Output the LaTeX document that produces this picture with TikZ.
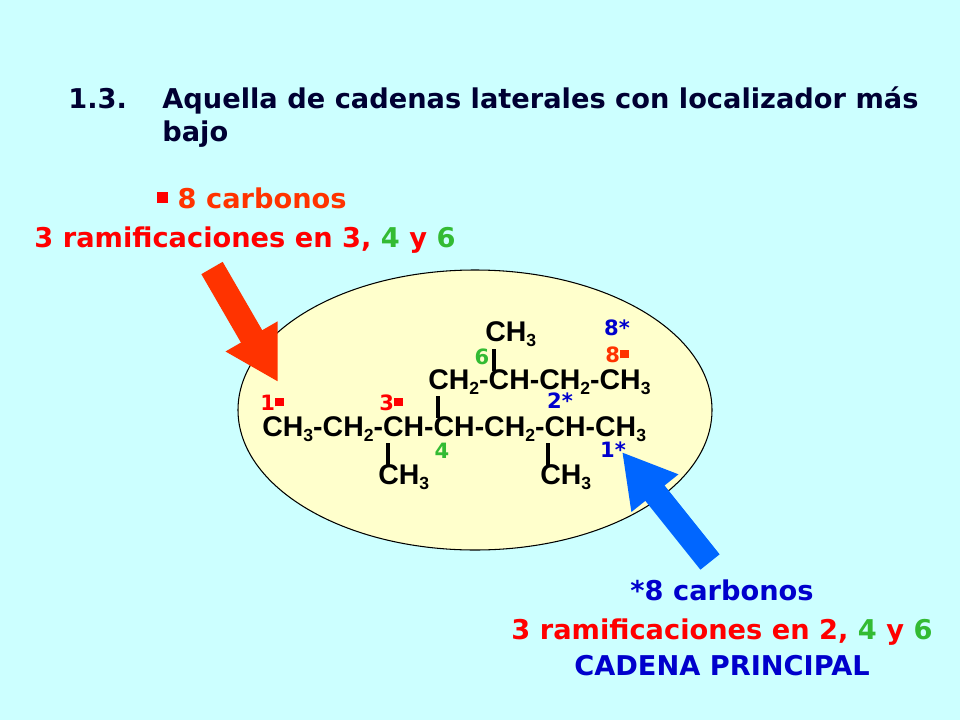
\documentclass[tikz,border=0pt]{standalone}
\usepackage{fontspec}
\setmainfont{DejaVu Sans}
\newfontfamily\molfont{Liberation Sans}
\usetikzlibrary{arrows.meta}
\definecolor{bgcyan}{HTML}{CCFFFF}
\definecolor{ovalfill}{HTML}{FFFFCC}
\definecolor{tred}{HTML}{FF0000}
\definecolor{torange}{HTML}{FF3300}
\definecolor{tgreen}{HTML}{33BB33}
\definecolor{tblue}{HTML}{0000CC}
\definecolor{tnavy}{HTML}{000033}
\newcommand{\sqmark}{\rule[0.2em]{0.4em}{0.4em}}
\newcommand{\sbs}[1]{\raisebox{-0.35ex}{\fontsize{10}{12}\selectfont #1}}
\tikzset{
  txt/.style={font=\bfseries\fontsize{15.5}{18.5}\selectfont, inner sep=0pt},
  mol/.style={font=\molfont\bfseries\fontsize{16.2}{19}\selectfont, inner sep=0pt, anchor=base west},
  num/.style={font=\bfseries\fontsize{12}{14}\selectfont, inner sep=0pt},
  bond/.style={line width=1.8pt}
}
\begin{document}
\begin{tikzpicture}[x=0.02cm, y=-0.02cm]
	    
	    % background
	    \fill[bgcyan] (0,0) rectangle (960,720);
	    \useasboundingbox (0,0) rectangle (960,720);
	    
	    % title
	    \node[txt, text=tnavy, anchor=base west] (num) at (68,108) {1.3.};
	    \node[txt, text=tnavy, anchor=base west, align=left] (title) at (162,108) {Aquella de cadenas laterales con localizador más};
	    \node[txt, text=tnavy, anchor=base west] (title2) at (162,141) {bajo};
	    
	    % oval
	    \draw[fill=ovalfill, line width=0.6pt] (475,410) ellipse (237 and 140);
	    
	    % main chain and branches
	    \node[mol] (chain) at (262,436) {CH\sbs{3}-CH\sbs{2}-CH-CH-CH\sbs{2}-CH-CH\sbs{3}};
	    \node[mol] (upper) at (428,389) {CH\sbs{2}-CH-CH\sbs{2}-CH\sbs{3}};
	    \node[mol] (top) at (485,341) {CH\sbs{3}};
	    \node[mol] (lowa) at (378,484) {CH\sbs{3}};
	    \node[mol] (lowb) at (540,484) {CH\sbs{3}};
	    
	    \draw[bond] (388,443) -- (388,467);
	    \draw[bond] (438,396) -- (438,418);
	    \draw[bond] (494,349) -- (494,371);
	    \draw[bond] (548,443) -- (548,467);
	    
	    % numbering
	    \node[num, text=tred] (n1) at (272,403) {1\sqmark};
	    \node[num, text=tred] (n3) at (391,403) {3\sqmark};
	    \node[num, text=tgreen] (n4) at (442,451) {4};
	    \node[num, text=tgreen] (n6) at (482,357) {6};
	    \node[num, text=tblue] (n2s) at (560,401) {2*};
	    \node[num, text=tblue] (n1s) at (613,450) {1*};
	    \node[num, text=tblue] (n8s) at (617,328) {8*};
	    \node[num, text=torange] (n8) at (617,355) {8\sqmark};
	    
	    % left label
	    \node[txt, text=torange] (lefta) at (252,198) {\textcolor{tred}{\sqmark} 8 carbonos};
	    \node[txt, text=tred] (leftb) at (245,240) {3 ramificaciones en 3, \textcolor{tgreen}{4} y \textcolor{tgreen}{6}};
	    \coordinate (redtip) at (278,382);
	    \draw[torange, line width=14pt, -{Triangle[length=30pt, width=32pt]}] (212,268) -- (redtip);
	    
	    % right label
	    \node[txt, text=tblue] (righta) at (722,590) {*8 carbonos};
	    \node[txt, text=tred] (rightb) at (722,632) {3 ramificaciones en 2, \textcolor{tgreen}{4} y \textcolor{tgreen}{6}};
	    \node[txt, text=tblue] (rightc) at (722,666) {CADENA PRINCIPAL};
	    \coordinate (bluetip) at (622,452);
	    \draw[blue!60!cyan, line width=14pt, -{Triangle[length=30pt, width=32pt]}] (710,562) -- (bluetip);
	    
	    \end{tikzpicture}
\end{document}
